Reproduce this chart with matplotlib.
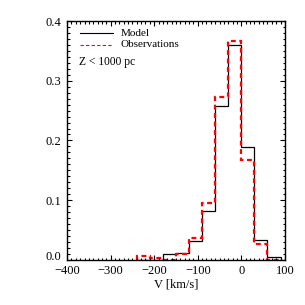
import matplotlib
matplotlib.use("Agg")
import matplotlib.pyplot as plt
from matplotlib.ticker import MultipleLocator, FuncFormatter
from matplotlib.transforms import ScaledTranslation

# histogram bin edges (km/s) and normalised counts
edges = [-240, -210, -180, -150, -120, -90, -60, -30, 0, 30, 60, 90]
model = [0.0, 0.0, 0.010, 0.011, 0.032, 0.082, 0.258, 0.360, 0.189, 0.0335, 0.0045]
obs = [0.006, 0.003, 0.0, 0.009, 0.037, 0.096, 0.272, 0.367, 0.167, 0.027, 0.0]

plt.rcParams["font.family"] = ["Liberation Serif", "DejaVu Serif"]
fig = plt.figure(figsize=(3.05, 3.05), dpi=100)
ax = fig.add_axes([0.22, 0.148, 0.714, 0.783])

ax.stairs(model, edges, color="black", lw=0.9)
ax.stairs(obs, edges, color="red", lw=1.6, ls=(0, (2.2, 1.6)))

ax.set_xlim(-400, 100)
ax.set_ylim(0, 0.4)
ax.xaxis.set_major_locator(MultipleLocator(100))
ax.xaxis.set_minor_locator(MultipleLocator(10))
ax.yaxis.set_major_locator(MultipleLocator(0.1))
ax.yaxis.set_minor_locator(MultipleLocator(0.01))
# 0.0 is drawn by hand a bit higher, as in the original
ax.yaxis.set_major_formatter(FuncFormatter(lambda v, p: "" if abs(v) < 1e-9 else f"{v:.1f}"))
ax.tick_params(which="both", direction="in", top=True, right=True, labelsize=9, width=0.8)
ax.tick_params(which="major", length=3.5, pad=4)
ax.tick_params(which="minor", length=1.8)
for s in ax.spines.values():
    s.set_linewidth(1.0)

off = ScaledTranslation(-4 / 72, 2 / 72, fig.dpi_scale_trans)
ax.text(0, 0, "0.0", transform=ax.transAxes + off, ha="right", va="center", fontsize=9)

ax.set_xlabel("V [km/s]", fontsize=9, labelpad=1)

# legend drawn by hand: short line + label
lx0, lx1, tx = 0.06, 0.21, 0.245
ax.plot([lx0, lx1], [0.948, 0.948], transform=ax.transAxes, color="black", lw=0.8)
ax.plot([lx0, lx1], [0.901, 0.901], transform=ax.transAxes, color="red", lw=0.8, ls=(0, (3, 2)))
ax.text(tx, 0.948, "Model", transform=ax.transAxes, fontsize=8, va="center")
ax.text(tx, 0.901, "Observations", transform=ax.transAxes, fontsize=8, va="center")
ax.text(0.055, 0.83, "Z < 1000 pc", transform=ax.transAxes, fontsize=8.3, va="center")

fig.savefig("out.png", dpi=100, facecolor="white")
